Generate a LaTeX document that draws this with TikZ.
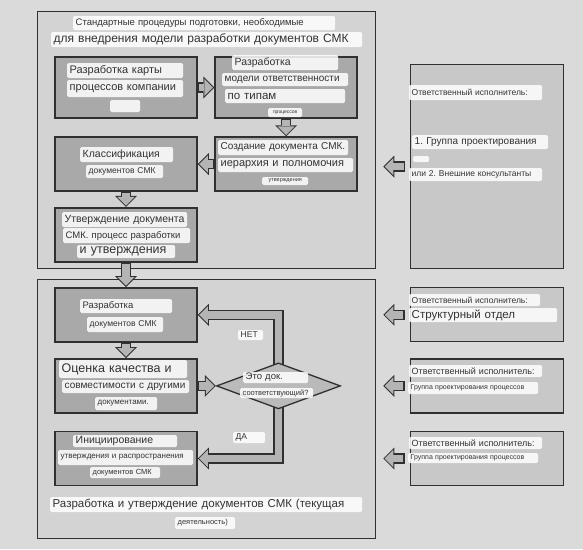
\documentclass[tikz,border=0pt]{standalone}
\usepackage{fontspec}
\setmainfont{Liberation Sans}
\usetikzlibrary{positioning,shapes.geometric,arrows.meta}
\definecolor{pagegray}{HTML}{DADADA}
\definecolor{framegray}{HTML}{D3D3D3}
\definecolor{boxgray}{HTML}{A9A9A9}
\definecolor{linegray}{HTML}{303030}
\definecolor{arrowgray}{HTML}{B4B4B4}
\definecolor{txtgray}{HTML}{333333}
\newcommand{\fsz}[1]{\fontsize{#1}{#1}\selectfont}
\frenchspacing
\pgfdeclarelayer{bg}
\pgfdeclarelayer{conn}
\pgfsetlayers{bg,conn,main}

\begin{document}
\begin{tikzpicture}[
		x=1pt, y=-1pt,
		node distance=16pt,
		frame/.style={
			draw=linegray,
			line width=1.3pt,
			fill=framegray,
			anchor=north west,
			inner sep=0pt
		},
		procbox/.style={
			draw=linegray,
			line width=1.6pt,
			fill=boxgray,
			minimum width=142pt,
			minimum height=54pt,
			inner sep=0pt
		},
		infobox/.style={
			procbox,
			line width=1.3pt,
			fill=framegray!95!black,
			minimum width=153pt
		},
		decision/.style={
			diamond,
			draw=linegray,
			line width=1.3pt,
			fill=boxgray!80!white,
			minimum width=124pt,
			minimum height=46pt,
			inner sep=0pt
		},
		lbl/.style={
			fill=white,
			fill opacity=0.85,
			text opacity=1,
			text=txtgray,
			rounded corners=1.5pt,
			inner xsep=2.5pt,
			inner ysep=0pt,
			anchor=west,
			align=left
		},
		blockarrow/.style={
			draw=linegray,
			line width=10.5pt,
			-{Triangle[length=11pt,width=22pt,line width=0pt]},
			postaction={
				draw=arrowgray,
				line width=7.5pt,
				-{Triangle[length=8.6pt,width=17.2pt,line width=0pt]},
				shorten >=1.4pt,
				shorten <=1.4pt
			}
		}
	]
		\useasboundingbox (0,0) rectangle (583,549);

		\begin{pgfonlayer}{bg}
			\fill[pagegray] (0,0) rectangle (583,549);
			\node[frame, minimum width=338pt, minimum height=257pt] (prep) at (37,11) {};
			\node[frame, minimum width=338pt, minimum height=259pt] (current) at (37,279) {};
		\end{pgfonlayer}

		% preparation steps
		\node[procbox, minimum height=61pt] (mapping) at (126,87.5) {};
		\node[procbox, minimum height=61pt, right=16.5pt of mapping] (roles) {};
		\node[procbox, below=17.5pt of roles] (create) {};
		\node[procbox, left=16.5pt of create] (classify) {};
		\node[procbox, below=15pt of classify] (approve) {};

		% current activity
		\node[procbox, below=24.5pt of approve] (develop) {};
		\node[procbox, below=15.5pt of develop] (assess) {};
		\node[procbox, below=17pt of assess] (initiate) {};
		\node[decision, right=18pt of assess] (check) {};

		% responsible parties
		\node[infobox, anchor=north west, minimum height=204pt] (resp-prep) at (410,64) {};
		\node[infobox, right=212pt of develop] (resp-develop) {};
		\node[infobox, right=212pt of assess] (resp-assess) {};
		\node[infobox, right=212pt of initiate] (resp-initiate) {};

		\coordinate (resp-prep-tail) at ([xshift=-5pt]resp-prep.west);
		\coordinate (resp-prep-tip) at ([xshift=7pt]prep.east |- resp-prep.west);
		\coordinate (resp-develop-tail) at ([xshift=-5pt]resp-develop.west);
		\coordinate (resp-develop-tip) at ([xshift=7pt]current.east |- resp-develop.west);
		\coordinate (resp-assess-tail) at ([xshift=-5pt]resp-assess.west);
		\coordinate (resp-assess-tip) at ([xshift=7pt]current.east |- resp-assess.west);
		\coordinate (resp-initiate-tail) at ([xshift=-5pt]resp-initiate.west);
		\coordinate (resp-initiate-tip) at ([xshift=7pt]current.east |- resp-initiate.west);

		\begin{pgfonlayer}{conn}
			\draw[blockarrow] (mapping) -- (roles);
			\draw[blockarrow] (roles) -- (create);
			\draw[blockarrow] (create) -- (classify);
			\draw[blockarrow] (classify) -- (approve);
			\draw[blockarrow] (approve) -- (develop);
			\draw[blockarrow] (develop) -- (assess);
			\draw[blockarrow] (assess) -- (check);
			\draw[blockarrow] (check.center) |- (develop);
			\draw[blockarrow] (check.center) |- (initiate);
			\foreach \r in {prep,develop,assess,initiate}
				\draw[blockarrow] (resp-\r-tail) -- (resp-\r-tip);
		\end{pgfonlayer}

		% texts
		\node[lbl, text width=257pt, minimum height=14pt, font=\fsz{9.5}] (prep-t1) at (73,23) {Стандартные процедуры подготовки, необходимые};
		\node[lbl, text width=306pt, minimum height=15pt, font=\fsz{12}] (prep-t2) at (51,39.5) {для внедрения модели разработки документов СМК};

		\node[lbl, text width=111pt, minimum height=15pt, font=\fsz{11}] (mapping-t1) at (67,70.5) {Разработка карты};
		\node[lbl, text width=111pt, minimum height=17pt, font=\fsz{11}] (mapping-t2) at (67,88.5) {процессов компании};
		\node[lbl, text width=25pt, minimum height=12pt] (mapping-t3) at (110,106) {};

		\node[lbl, text width=101pt, minimum height=15pt, font=\fsz{10.5}] (roles-t1) at (232,62.5) {Разработка};
		\node[lbl, text width=121pt, minimum height=13pt, font=\fsz{10}] (roles-t2) at (222,79.5) {модели ответственности};
		\node[lbl, text width=115pt, minimum height=14pt, font=\fsz{11.5}] (roles-t3) at (225,96) {по типам};
		\node[lbl, text width=29pt, minimum height=9pt, align=center, font=\fsz{5}] (roles-t4) at (268,112.5) {процессов};

		\node[lbl, text width=125pt, minimum height=15pt, font=\fsz{10}] (create-t1) at (218,147.5) {Создание документа СМК.};
		\node[lbl, text width=130pt, minimum height=14pt, font=\fsz{11}] (create-t2) at (218,165) {иерархия и полномочия};
		\node[lbl, text width=41pt, minimum height=8pt, align=center, font=\fsz{5.5}] (create-t3) at (262,181) {утверждения};

		\node[lbl, text width=88pt, minimum height=15pt, font=\fsz{10.5}] (classify-t1) at (80,154.5) {Классификация};
		\node[lbl, text width=72pt, minimum height=13pt, font=\fsz{8.5}] (classify-t2) at (86,171.5) {документов СМК};

		\node[lbl, text width=120pt, minimum height=15pt, font=\fsz{10.5}] (approve-t1) at (62,219.5) {Утверждение документа};
		\node[lbl, text width=122pt, minimum height=15pt, font=\fsz{9.5}] (approve-t2) at (63,235.5) {СМК. процесс разработки};
		\node[lbl, text width=93pt, minimum height=13pt, font=\fsz{12.5}] (approve-t3) at (77,251.5) {и утверждения};

		\node[lbl, text width=87pt, minimum height=14pt, font=\fsz{9.5}] (develop-t1) at (80,306) {Разработка};
		\node[lbl, text width=71pt, minimum height=15pt, font=\fsz{8.5}] (develop-t2) at (87,324.5) {документов СМК};

		\node[lbl, text width=123pt, minimum height=18pt, font=\fsz{12.5}] (assess-t1) at (59,369) {Оценка качества и};
		\node[lbl, text width=122pt, minimum height=13pt, font=\fsz{10}] (assess-t2) at (62,386.5) {совместимости с другими};
		\node[lbl, text width=57pt, minimum height=13pt, font=\fsz{8}] (assess-t3) at (95,403.5) {документами.};

		\node[lbl, text width=60pt, minimum height=11pt, font=\fsz{9.5}] (check-t1) at (243,377.5) {Это док.};
		\node[lbl, text width=68pt, minimum height=10pt, font=\fsz{7.5}] (check-t2) at (240,393) {соответствующий?};
		\node[lbl, text width=20pt, minimum height=10pt, font=\fsz{8.5}] (no) at (238,335) {НЕТ};
		\node[lbl, text width=27pt, minimum height=11pt, font=\fsz{8.5}] (yes) at (233,437.5) {ДА};

		\node[lbl, text width=99pt, minimum height=12pt, font=\fsz{10.5}] (initiate-t1) at (73,441) {Инициирование};
		\node[lbl, text width=130pt, minimum height=15pt, font=\fsz{8}] (initiate-t2) at (58,457.5) {утверждения и распространения};
		\node[lbl, text width=65pt, minimum height=11pt, font=\fsz{7.5}] (initiate-t3) at (90,472.5) {документов СМК};

		\node[lbl, text width=307pt, minimum height=15pt, font=\fsz{11.5}] (current-t1) at (50,504.5) {Разработка и утверждение документов СМК (текущая};
		\node[lbl, text width=55pt, minimum height=12pt, font=\fsz{7.5}] (current-t2) at (175,523) {деятельность)};

		\node[lbl, text width=128pt, minimum height=15pt, font=\fsz{8.5}] (resp-prep-t1) at (409,92.5) {Ответственный исполнитель:};
		\node[lbl, text width=131pt, minimum height=14pt, font=\fsz{10}] (resp-prep-t2) at (412,142) {1. Группа проектирования};
		\node[lbl, text width=11pt, minimum height=6pt] (resp-prep-t3) at (413,159) {};
		\node[lbl, text width=128pt, minimum height=13pt, font=\fsz{8.5}] (resp-prep-t4) at (409,174.5) {или 2. Внешние консультанты};

		\node[lbl, text width=126pt, minimum height=12pt, font=\fsz{8.5}] (resp-develop-t1) at (409,300) {Ответственный исполнитель:};
		\node[lbl, text width=143pt, minimum height=14pt, font=\fsz{11.5}] (resp-develop-t2) at (409,315) {Структурный отдел};
		\node[lbl, text width=128pt, minimum height=12pt, font=\fsz{9}] (resp-assess-t1) at (409,371) {Ответственный исполнитель:};
		\node[lbl, text width=125pt, minimum height=12pt, font=\fsz{7}] (resp-assess-t2) at (408,388) {Группа проектирования процессов};
		\node[lbl, text width=128pt, minimum height=12pt, font=\fsz{9}] (resp-initiate-t1) at (409,443) {Ответственный исполнитель:};
		\node[lbl, text width=125pt, minimum height=10pt, font=\fsz{7}] (resp-initiate-t2) at (408,458) {Группа проектирования процессов};
	\end{tikzpicture}
\end{document}
